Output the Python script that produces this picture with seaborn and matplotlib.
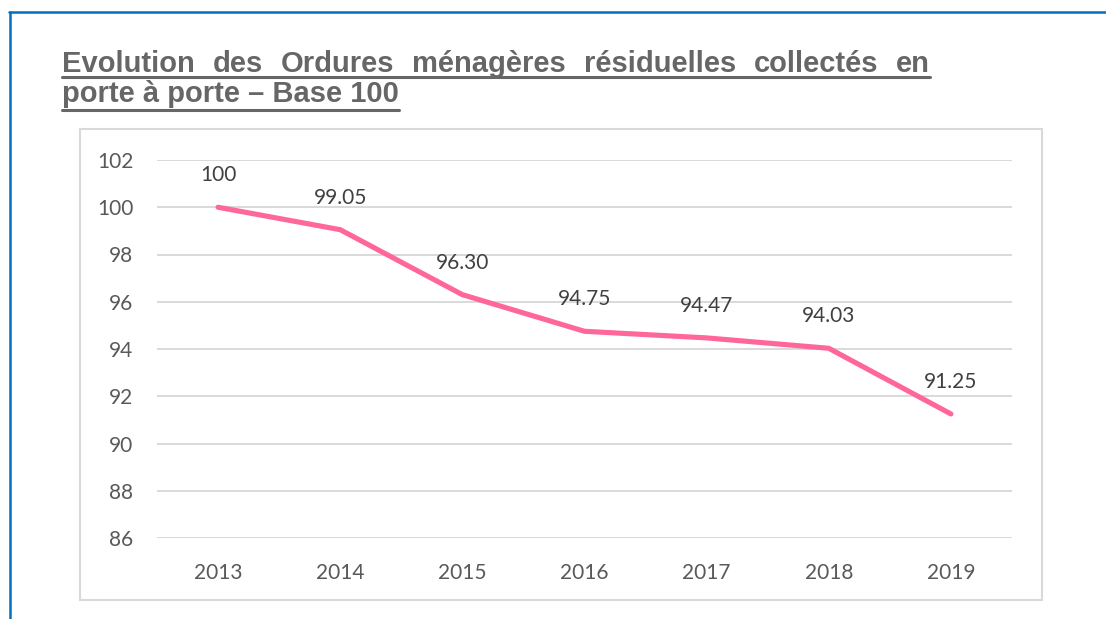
import pandas as pd
import matplotlib.pyplot as plt
import seaborn as sns
from matplotlib.lines import Line2D
from matplotlib.patches import Rectangle

# Data
years = ["2013", "2014", "2015", "2016", "2017", "2018", "2019"]
values = [100, 99.05, 96.30, 94.75, 94.47, 94.03, 91.25]
labels = ["100", "99.05", "96.30", "94.75", "94.47", "94.03", "91.25"]
y_ticks = [86, 88, 90, 92, 94, 96, 98, 100, 102]

title_line1 = ["Evolution", "des", "Ordures", "ménagères", "résiduelles", "collectés", "en"]
title_line2 = "porte à porte – Base 100"

df = pd.DataFrame({"année": years, "indice": values})

sns.set_theme(style="white")
plt.rcParams["font.family"] = ["Lato", "DejaVu Sans"]

W, H = 1106, 619
fig = plt.figure(figsize=(W / 100, H / 100), dpi=100)

def fx(px):
    return px / W

def fy(py):
    return 1 - py / H

# Axes placed like the original chart area
ax = fig.add_axes([fx(157), fy(538), fx(1012) - fx(157), fy(160) - fy(538)])

sns.lineplot(data=df, x="année", y="indice", ax=ax, color="#FF6699",
             linewidth=3.7, solid_capstyle="round", solid_joinstyle="round")

for yr, v, lab in zip(years, values, labels):
    ax.annotate(lab, (yr, v), xytext=(0, 32), textcoords="offset pixels",
                ha="center", va="center", fontsize=15, color="#404040")

ax.set_ylim(86, 102)
ax.set_xlim(-0.5, 6.5)
ax.set_yticks(y_ticks)
ax.set_yticklabels([str(t) for t in y_ticks])
ax.grid(axis="y", color="#D9D9D9", linewidth=1.4)
ax.grid(axis="x", visible=False)
ax.set_axisbelow(True)
for s in ax.spines.values():
    s.set_visible(False)
ax.tick_params(axis="both", length=0, labelsize=15, labelcolor="#595959")
ax.tick_params(axis="y", pad=17)
ax.tick_params(axis="x", pad=18)
ax.set_xlabel("")
ax.set_ylabel("")

# Chart frame
fig.patches.append(Rectangle((fx(80), fy(600)), fx(1042) - fx(80), fy(129) - fy(600),
                             transform=fig.transFigure, fill=False,
                             edgecolor="#D9D9D9", linewidth=1.5))

# Blue page border (top and left)
fig.add_artist(Line2D([fx(9), 1], [fy(12), fy(12)], color="#0070C0", linewidth=1.8))
fig.add_artist(Line2D([fx(10), fx(10)], [0, fy(12)], color="#0070C0", linewidth=1.8))

# Justified, underlined title
title_kw = dict(fontsize=21, fontweight="bold", color="#666666",
                family=["Liberation Sans", "DejaVu Sans"], va="baseline", ha="left")
renderer = fig.canvas.get_renderer()
words = [fig.text(0, 0, w, **title_kw) for w in title_line1]
widths = [t.get_window_extent(renderer).width for t in words]
x0, x1 = 62, 930
gap = (x1 - x0 - sum(widths)) / (len(words) - 1)
xpos = x0
for t, w in zip(words, widths):
    t.set_position((fx(xpos), fy(72)))
    xpos += w + gap
fig.add_artist(Line2D([fx(x0), fx(x1)], [fy(76.5), fy(76.5)], color="#666666", linewidth=2.2))

t2 = fig.text(fx(62), fy(101.5), title_line2, **title_kw)
w2 = t2.get_window_extent(renderer).width
fig.add_artist(Line2D([fx(62), fx(62 + w2)], [fy(109.5), fy(109.5)], color="#666666", linewidth=2.2))

plt.savefig("out.png", dpi=100)
